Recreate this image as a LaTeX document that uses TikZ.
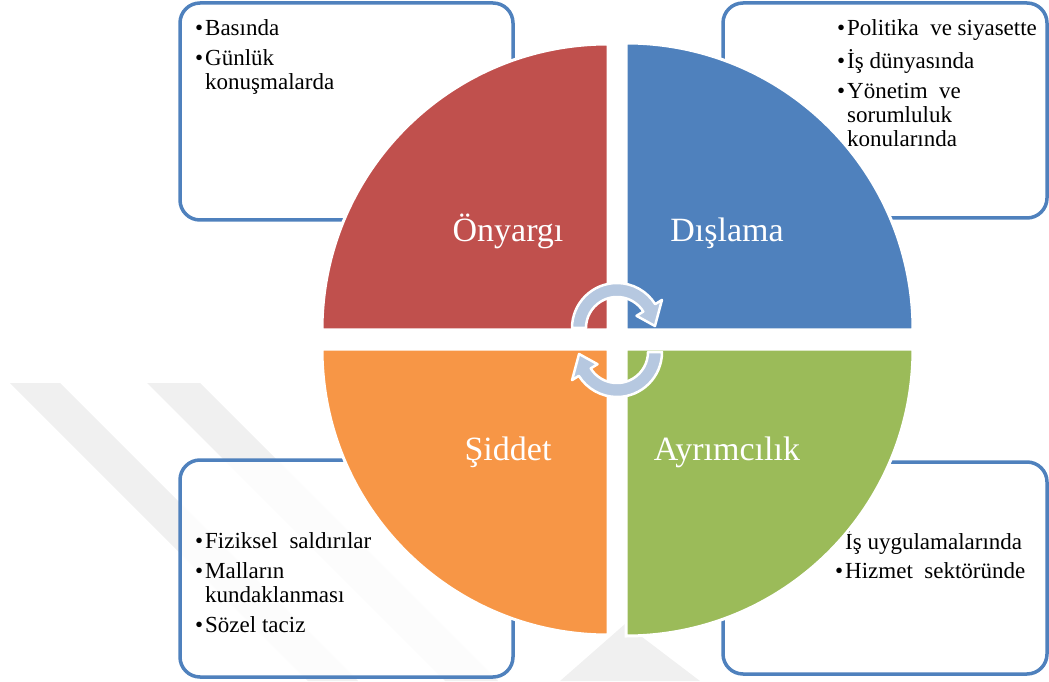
\documentclass[tikz,border=0pt]{standalone}
\usepackage{fontspec}
\setmainfont{Liberation Serif}
\definecolor{cred}{HTML}{C0504D}
\definecolor{cblue}{HTML}{4F81BD}
\definecolor{corange}{HTML}{F79646}
\definecolor{cgreen}{HTML}{9BBB59}
\definecolor{boxline}{HTML}{4F81BD}
\definecolor{arrowfill}{RGB}{182,200,224}
\definecolor{wmgray}{RGB}{240,240,240}
\newcommand\bul{\makebox[10pt][l]{•}}
\newcommand\bulw{\makebox[15pt][l]{•}}
\begin{document}
\begin{tikzpicture}[x=1pt,y=1pt,
  wm/.style={fill=wmgray},
  infobox/.style={draw=boxline,line width=3.5pt,rounded corners=20pt,fill=white,fill opacity=0.85},
  sector/.style={draw=white,line width=3pt},
  bigtext/.style={text=white,font=\fontsize{34}{40}\selectfont,inner sep=0pt,anchor=base},
  listtext/.style={font=\fontsize{23}{24}\selectfont,inner sep=0pt,anchor=base west,text=black},
  cyclearrow/.style={fill=arrowfill,draw=white,line width=2.5pt,line join=round}]
\useasboundingbox (0,0) rectangle (1049,681);
% watermark
\fill[wm] (10,298) -- (60,298) -- (358,0) -- (308,0) -- cycle;
\fill[wm] (147,298) -- (200,298) -- (498,0) -- (445,0) -- cycle;
\fill[wm] (560,0) -- (625,57) -- (700,0) -- cycle;
% boxes
\draw[infobox] (180,461) rectangle (513,678);
\draw[infobox] (723,463) rectangle (1047,678);
\draw[infobox] (180,4) rectangle (513,221);
\draw[infobox] (723,7) rectangle (1047,219);
% list texts
\node[listtext] (tl) at (195,645) {\begin{tabular}[t]{@{}l@{}}\bul Basında\\[6pt] \bul Günlük\\ \hspace*{10pt}konuşmalarda\end{tabular}};
\node[listtext] (tr) at (837,645) {\begin{tabular}[t]{@{}l@{}}\bul Politika\ \ ve siyasette\\[6pt] \bul İş dünyasında\\[6pt] \bul Yönetim\ \ ve\\ \hspace*{10pt}sorumluluk\\ \hspace*{10pt}konularında\end{tabular}};
\node[listtext] (bl) at (195,133) {\begin{tabular}[t]{@{}l@{}}\bul Fiziksel\ \ saldırılar\\[6pt] \bul Malların\\ \hspace*{10pt}kundaklanması\\[6pt] \bul Sözel taciz\end{tabular}};
\node[listtext] (br) at (830,132) {\begin{tabular}[t]{@{}l@{}}\bulw İş uygulamalarında\\[5pt] \hspace*{5pt}\bul Hizmet\ \ sektöründe\end{tabular}};
% sectors
\filldraw[sector,fill=cred] (608,351) -- ++(180:286) arc[start angle=180,end angle=90,radius=286] -- cycle;
\filldraw[sector,fill=cblue] (626,351) -- ++(90:287) arc[start angle=90,end angle=0,radius=287] -- cycle;
\filldraw[sector,fill=corange] (608,332) -- ++(270:286) arc[start angle=270,end angle=180,radius=286] -- cycle;
\filldraw[sector,fill=cgreen] (626,332) -- ++(0:287) arc[start angle=0,end angle=-90,radius=287] -- cycle;
% labels
\node[bigtext] (onyargi) at (508,439) {Önyargı};
\node[bigtext] (dislama) at (727,439) {Dışlama};
\node[bigtext] (siddet) at (508,221) {Şiddet};
\node[bigtext] (ayrimcilik) at (727,221) {Ayrımcılık};
% cycle arrows
\begin{scope}[shift={(617,353)}]
\path[cyclearrow] (180:45) arc[start angle=180,end angle=32,radius=45] -- (32:53) -- (3:38) -- (32:23) -- (32:31) arc[start angle=32,end angle=180,radius=31] -- cycle;
\end{scope}
\begin{scope}[shift={(617,329)},rotate=180]
\path[cyclearrow] (180:45) arc[start angle=180,end angle=32,radius=45] -- (32:53) -- (3:38) -- (32:23) -- (32:31) arc[start angle=32,end angle=180,radius=31] -- cycle;
\end{scope}
\end{tikzpicture}
\end{document}
